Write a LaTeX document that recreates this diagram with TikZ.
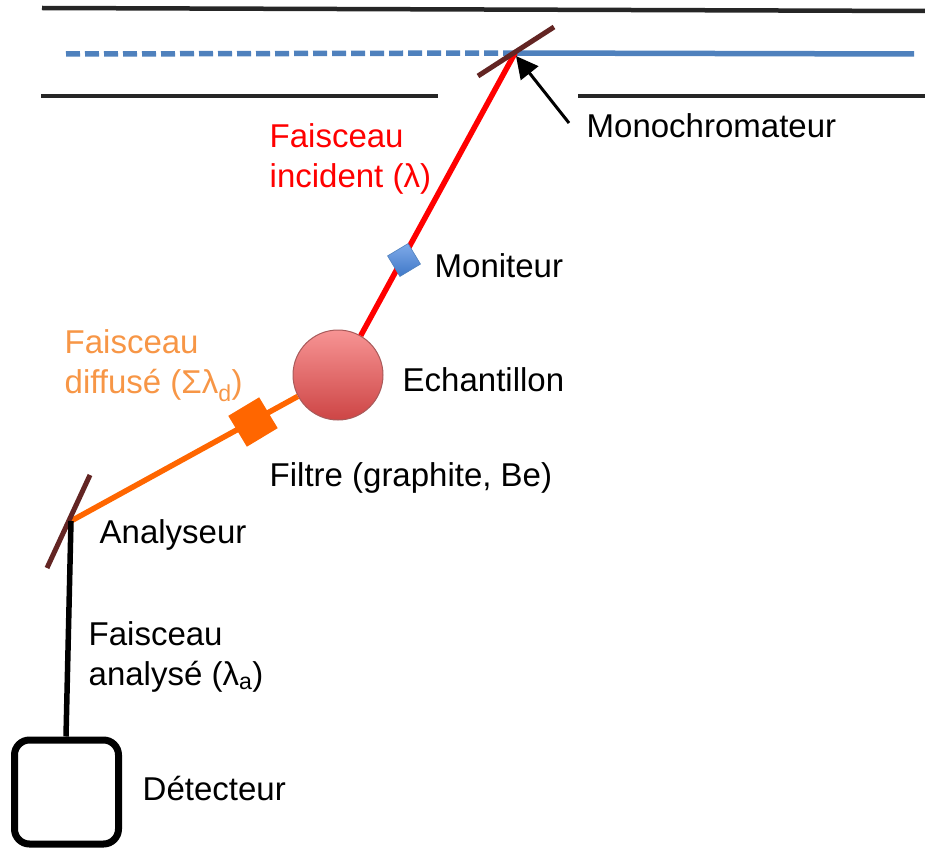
\documentclass[tikz,border=0pt]{standalone}
\usepackage{fontspec}
\setmainfont{Liberation Sans}
\usetikzlibrary{arrows.meta}
\definecolor{beamblue}{HTML}{4F81BD}
\definecolor{crystal}{HTML}{632523}
\definecolor{orangeb}{HTML}{FF6600}
\definecolor{orangetxt}{HTML}{F79646}
\definecolor{sphtop}{HTML}{F79494}
\definecolor{sphbot}{HTML}{CD4545}
\definecolor{sphedge}{HTML}{A85A5A}
\definecolor{montop}{HTML}{7FAAE8}
\definecolor{monbot}{HTML}{3F78C8}
\tikzset{
  x=1pt,y=-1pt,
  lab/.style={anchor=west,inner sep=0pt,font=\fontsize{33}{40}\selectfont,align=left,text=black},
  wall/.style={line width=4.5pt,draw=black!85},
  xtal/.style={line width=5pt,draw=crystal},
}
\begin{document}
\begin{tikzpicture}
\useasboundingbox (0,0) rectangle (925,848);
\coordinate (mono) at (515,53);
\coordinate (ana) at (71,521);
\coordinate (blueL) at (66,54);
\coordinate (blueR) at (914,54);
\coordinate (monoA) at (478,76);
\coordinate (monoB) at (554,27);
\coordinate (anaA) at (47,568);
\coordinate (anaB) at (90,475);
\coordinate (arrowtail) at (569,123);
\coordinate (arrowhead) at (516,56);
\coordinate (t1) at (42,8);\coordinate (t2) at (925,11);
\coordinate (l1) at (41,96);\coordinate (l2) at (438,96);
\coordinate (r1) at (578,96);\coordinate (r2) at (925,96);
% walls
\draw[wall] (t1) -- (t2);
\draw[wall] (l1) -- (l2);
\draw[wall] (r1) -- (r2);
% white beam
\draw[line width=5.5pt,beamblue,dash pattern=on 14pt off 5pt] (blueL) -- (mono);
\draw[line width=5.5pt,beamblue] (mono) -- (blueR);
% sample and elements
\node[circle,minimum size=90pt,inner sep=0pt,draw=sphedge,line width=1pt,top color=sphtop,bottom color=sphbot] (sample) at (338,375) {};
\draw[line width=5.5pt,red] (mono) -- (sample.60);
\draw[line width=5.5pt,orangeb] (sample.208) -- (ana);
\node[rectangle,rotate=31,minimum size=24pt,inner sep=0pt,draw=beamblue,line width=0.6pt,top color=montop,bottom color=monbot] (mon) at (404,260) {};
\node[rectangle,rotate=31,minimum size=36pt,inner sep=0pt,fill=orangeb] (filt) at (253,422) {};
% crystals
\draw[xtal] (monoA) -- (monoB);
\draw[xtal] (anaA) -- (anaB);
% detector
\node[rectangle,rounded corners=15pt,draw=black,line width=7pt,minimum width=104pt,minimum height=104pt,inner sep=0pt] (det) at (66.5,792) {};
\draw[line width=5.5pt,black] (ana) -- (det.north -| 66,0);
% arrow
\draw[line width=3pt,black,-{Triangle[length=22pt,width=22pt]}] (arrowtail) -- (arrowhead);
% labels
\node[lab] (l_mono) at (586.5,126) {Monochromateur};
\node[lab,text=red] (l_inc) at (269.5,159) {Faisceau\\incident (λ)};
\node[lab] (l_mon) at (434.5,266) {Moniteur};
\node[lab] (l_ech) at (402.5,380) {Echantillon};
\node[lab,text=orangetxt] (l_dif) at (64.5,366) {Faisceau\\diffusé (Σλ\textsubscript{d})};
\node[lab] (l_fil) at (269.5,478) {Filtre (graphite, Be)};
\node[lab] (l_ana) at (99.5,535) {Analyseur};
\node[lab] (l_fan) at (88.5,657) {Faisceau\\analysé (λ\textsubscript{a})};
\node[lab] (l_det) at (142.5,788) {Détecteur};
\end{tikzpicture}
\end{document}
